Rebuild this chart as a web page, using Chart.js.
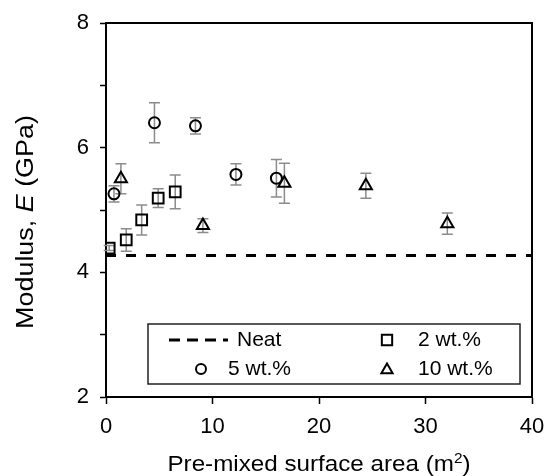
<!DOCTYPE html>
<html>
<head>
<meta charset="utf-8">
<script src="https://cdn.jsdelivr.net/npm/chart.js@4.4.1/dist/chart.umd.min.js"></script>
<style>
    html, body { margin: 0; padding: 0; background: #fff; }
    #modulusChart { display: block; }
</style>
</head>
<body>
<canvas id="modulusChart" width="549" height="476"></canvas>
<script>
// datos
const neatX = [0, 40];
const neatY = [4.27, 4.27];

const wt2X = [0.3, 1.9, 3.35, 4.9, 6.5];
const wt2Y = [4.39, 4.52, 4.84, 5.19, 5.29];
const wt2Err = [0.04, 0.18, 0.24, 0.15, 0.27];

const wt5X = [0.75, 4.55, 8.4, 12.2, 16.0];
const wt5Y = [5.26, 6.40, 6.35, 5.57, 5.51];
const wt5Err = [0.13, 0.32, 0.13, 0.17, 0.30];

const wt10X = [1.4, 9.1, 16.75, 24.4, 32.05];
const wt10Y = [5.50, 4.75, 5.43, 5.39, 4.78];
const wt10Err = [0.24, 0.11, 0.32, 0.20, 0.17];

const xTicks = [0, 10, 20, 30, 40];
const yTicks = [2, 3, 4, 5, 6, 7, 8];
const yLabelled = [2, 4, 6, 8];

const FONT = "'Liberation Sans', Arial, sans-serif";

function toPoints(xs, ys, errs) {
    return xs.map((x, i) => ({ x: x, y: ys[i], err: errs ? errs[i] : 0 }));
}

// dibuja un texto con partes de distinto estilo, centrado y estirado en su eje
function drawRichText(ctx, parts, stretch) {
    let total = 0;
    parts.forEach((p) => {
        ctx.font = p.f;
        p.w = ctx.measureText(p.t).width;
        total += p.w;
    });
    ctx.scale(stretch, 1);
    let cx = -total / 2;
    parts.forEach((p) => {
        ctx.font = p.f;
        ctx.fillText(p.t, cx, p.dy || 0);
        cx += p.w;
    });
}

// barras de error grises, por debajo de los marcadores
const errorBarPlugin = {
    id: "errorBars",
    beforeDatasetsDraw(chart) {
        const ctx = chart.ctx;
        const xs = chart.scales.x;
        const ys = chart.scales.y;
        ctx.save();
        ctx.strokeStyle = "#8c8c8c";
        ctx.lineWidth = 1.5;
        chart.data.datasets.forEach((ds) => {
            if (!ds.errorBars) return;
            ds.data.forEach((p) => {
                if (!p.err) return;
                const px = xs.getPixelForValue(p.x);
                const top = ys.getPixelForValue(p.y + p.err);
                const bot = ys.getPixelForValue(p.y - p.err);
                ctx.beginPath();
                ctx.moveTo(px, top);
                ctx.lineTo(px, bot);
                ctx.moveTo(px - 5.5, top);
                ctx.lineTo(px + 5.5, top);
                ctx.moveTo(px - 5.5, bot);
                ctx.lineTo(px + 5.5, bot);
                ctx.stroke();
            });
        });
        ctx.restore();
    },
};

// marco superior y derecho + títulos de los ejes
const framePlugin = {
    id: "frame",
    afterDraw(chart) {
        const ctx = chart.ctx;
        const a = chart.chartArea;
        ctx.save();
        ctx.strokeStyle = "#000";
        ctx.lineWidth = 2;
        ctx.beginPath();
        ctx.moveTo(a.left, a.top);
        ctx.lineTo(a.right, a.top);
        ctx.lineTo(a.right, a.bottom);
        ctx.stroke();
        ctx.restore();

        // eje Y, con la E en cursiva
        ctx.save();
        ctx.fillStyle = "#000";
        ctx.textBaseline = "middle";
        ctx.translate(27, (a.top + a.bottom) / 2 + 12);
        ctx.rotate(-Math.PI / 2);
        drawRichText(ctx, [
            { t: "Modulus, ", f: "23px " + FONT },
            { t: "E", f: "italic 23px " + FONT },
            { t: " (GPa)", f: "23px " + FONT },
        ], 1.17);
        ctx.restore();

        // eje X, con superíndice
        ctx.save();
        ctx.fillStyle = "#000";
        ctx.textBaseline = "alphabetic";
        ctx.translate((a.left + a.right) / 2, chart.height - 5);
        drawRichText(ctx, [
            { t: "Pre-mixed surface area (m", f: "22px " + FONT },
            { t: "2", f: "14px " + FONT, dy: -8 },
            { t: ")", f: "22px " + FONT },
        ], 1.1);
        ctx.restore();
    },
};

// leyenda en recuadro de dos columnas
const legendPlugin = {
    id: "boxLegend",
    afterDraw(chart) {
        const ctx = chart.ctx;
        const a = chart.chartArea;
        const ds = chart.data.datasets;
        const left = a.left + 42;
        const right = a.right - 12;
        const top = a.bottom - 73;
        const bottom = a.bottom - 13;
        const row1 = top + 16;
        const row2 = top + 45;
        const col2 = left + 239;

        ctx.save();
        ctx.fillStyle = "#fff";
        ctx.fillRect(left, top, right - left, bottom - top);
        ctx.strokeStyle = "#222";
        ctx.lineWidth = 1.5;
        ctx.strokeRect(left, top, right - left, bottom - top);

        ctx.font = "21px " + FONT;
        ctx.textBaseline = "middle";

        // Neat
        ctx.strokeStyle = "#000";
        ctx.lineWidth = 3;
        ctx.setLineDash([11, 7]);
        ctx.beginPath();
        ctx.moveTo(left + 21, row1);
        ctx.lineTo(left + 80, row1);
        ctx.stroke();
        ctx.setLineDash([]);
        ctx.fillStyle = "#000";
        ctx.fillText(ds[0].label, left + 89, row1);

        const marker = (style, x, y, r) => {
            ctx.fillStyle = "rgba(0,0,0,0)";
            ctx.strokeStyle = "#000";
            ctx.lineWidth = 2;
            Chart.helpers.drawPoint(ctx, { pointStyle: style, radius: r, borderWidth: 2 }, x, y);
            ctx.fillStyle = "#000";
        };

        marker("rect", col2, row1, 7.3);
        ctx.fillText(ds[1].label, col2 + 31, row1);
        marker("circle", left + 53, row2, 5);
        ctx.fillText(ds[2].label, left + 80, row2);
        marker("triangle", col2, row2 + 1, 6.5);
        ctx.fillText(ds[3].label, col2 + 31, row2);
        ctx.restore();
    },
};

function createChart() {
    const ctx = document.getElementById("modulusChart");

    const markerBase = {
        backgroundColor: "rgba(0,0,0,0)",
        borderColor: "#000",
        borderWidth: 2,
        showLine: false,
        errorBars: true,
    };

    new Chart(ctx, {
        type: "scatter",
        data: {
            datasets: [
                {
                    label: "Neat",
                    data: toPoints(neatX, neatY),
                    showLine: true,
                    borderColor: "#000",
                    borderWidth: 3,
                    borderDash: [10, 10],
                    pointRadius: 0,
                    fill: false,
                },
                Object.assign({}, markerBase, {
                    label: "2 wt.%",
                    data: toPoints(wt2X, wt2Y, wt2Err),
                    pointStyle: "rect",
                    pointRadius: 7.6,
                }),
                Object.assign({}, markerBase, {
                    label: "5 wt.%",
                    data: toPoints(wt5X, wt5Y, wt5Err),
                    pointStyle: "circle",
                    pointRadius: 5.5,
                }),
                Object.assign({}, markerBase, {
                    label: "10 wt.%",
                    data: toPoints(wt10X, wt10Y, wt10Err),
                    pointStyle: "triangle",
                    pointRadius: 7,
                }),
            ],
        },
        options: {
            responsive: false,
            animation: false,
            layout: {
                padding: { top: 23, right: 17, left: 0, bottom: 0 },
            },
            plugins: {
                legend: { display: false },
                tooltip: { enabled: false },
            },
            scales: {
                x: {
                    type: "linear",
                    min: xTicks[0],
                    max: xTicks[xTicks.length - 1],
                    afterBuildTicks: (scale) => {
                        scale.ticks = xTicks.map((v) => ({ value: v }));
                    },
                    afterFit: (scale) => {
                        scale.height = 79;
                        scale.paddingLeft = 0;
                        scale.paddingRight = 0;
                    },
                    border: { color: "#000", width: 2 },
                    grid: {
                        drawOnChartArea: false,
                        tickLength: 7,
                        tickColor: "#000",
                        tickWidth: 1.5,
                    },
                    ticks: {
                        color: "#000",
                        padding: 10,
                        maxRotation: 0,
                        font: { family: FONT, size: 22 },
                    },
                },
                y: {
                    type: "linear",
                    min: yTicks[0],
                    max: yTicks[yTicks.length - 1],
                    afterBuildTicks: (scale) => {
                        scale.ticks = yTicks.map((v) => ({ value: v }));
                    },
                    afterFit: (scale) => {
                        scale.width = 106;
                        scale.paddingTop = 0;
                        scale.paddingBottom = 0;
                    },
                    border: { color: "#000", width: 2 },
                    grid: {
                        drawOnChartArea: false,
                        tickLength: 6,
                        tickColor: "#000",
                        tickWidth: 1.5,
                    },
                    ticks: {
                        color: "#000",
                        padding: 11,
                        font: { family: FONT, size: 22 },
                        callback: (v) => (yLabelled.includes(v) ? v : ""),
                    },
                },
            },
        },
        plugins: [errorBarPlugin, framePlugin, legendPlugin],
    });
}

createChart();
</script>
</body>
</html>
